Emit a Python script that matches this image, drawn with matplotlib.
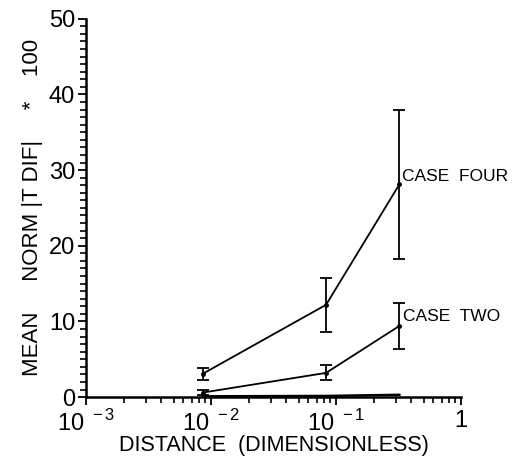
import matplotlib
matplotlib.use("Agg")
import matplotlib.pyplot as plt
from matplotlib.ticker import LogLocator, MultipleLocator, FixedLocator

plt.rcParams['font.family'] = 'Liberation Sans'
plt.rcParams['mathtext.fontset'] = 'custom'
plt.rcParams['mathtext.rm'] = 'Liberation Sans'

# distances (dimensionless)
distance = [0.0086, 0.083, 0.32]

# case four
four_mean = [3.1, 12.2, 28.1]
four_err = [0.8, 3.6, 9.8]

# case two
two_mean = [0.6, 3.2, 9.4]
two_err = [0.3, 1.0, 3.1]

# lowest case, hugging the axis
low_mean = [0.1, 0.15, 0.3]

xticks = [1e-3, 1e-2, 1e-1, 1]
xticklabels = [r'$10^{\ -3}$', r'$10^{\ -2}$', r'$10^{\ -1}$', '1']

fig = plt.figure(figsize=(5.13, 4.58), dpi=100)
ax = fig.add_axes([0.168, 0.133, 0.731, 0.826])

ax.errorbar(distance, four_mean, yerr=four_err, color='black', lw=1.3,
            capsize=4, capthick=1.3, elinewidth=1.3, marker='o', ms=2.5)
ax.errorbar(distance, two_mean, yerr=two_err, color='black', lw=1.3,
            capsize=4, capthick=1.3, elinewidth=1.3, marker='o', ms=2.5)
ax.plot(distance, low_mean, color='black', lw=1.8)

ax.text(0.335, 29.2, 'CASE  FOUR', fontsize=12.5, va='center', ha='left')
ax.text(0.345, 10.6, 'CASE  TWO', fontsize=12.5, va='center', ha='left')

ax.set_xscale('log')
ax.set_xlim(1e-3, 1)
ax.set_ylim(0, 50)

ax.xaxis.set_major_locator(FixedLocator(xticks))
ax.set_xticklabels(xticklabels)
ax.xaxis.set_minor_locator(LogLocator(base=10, subs=range(2, 10)))
ax.xaxis.set_minor_formatter(plt.NullFormatter())
ax.yaxis.set_major_locator(MultipleLocator(10))
ax.yaxis.set_minor_locator(MultipleLocator(1))

for s in ['top', 'right']:
    ax.spines[s].set_visible(False)
for s in ['left', 'bottom']:
    ax.spines[s].set_linewidth(1.8)

ax.tick_params(which='major', length=6, width=1.3, labelsize=17, pad=2)
ax.tick_params(axis='x', which='major', pad=3)
ax.tick_params(which='minor', length=4, width=1.2)

ax.set_xlabel('DISTANCE  (DIMENSIONLESS)', fontsize=15.5, labelpad=0)
ax.set_ylabel('MEAN     NORM |T DIF|     *    100', fontsize=16, labelpad=4)

fig.savefig('out.png', dpi=100)
